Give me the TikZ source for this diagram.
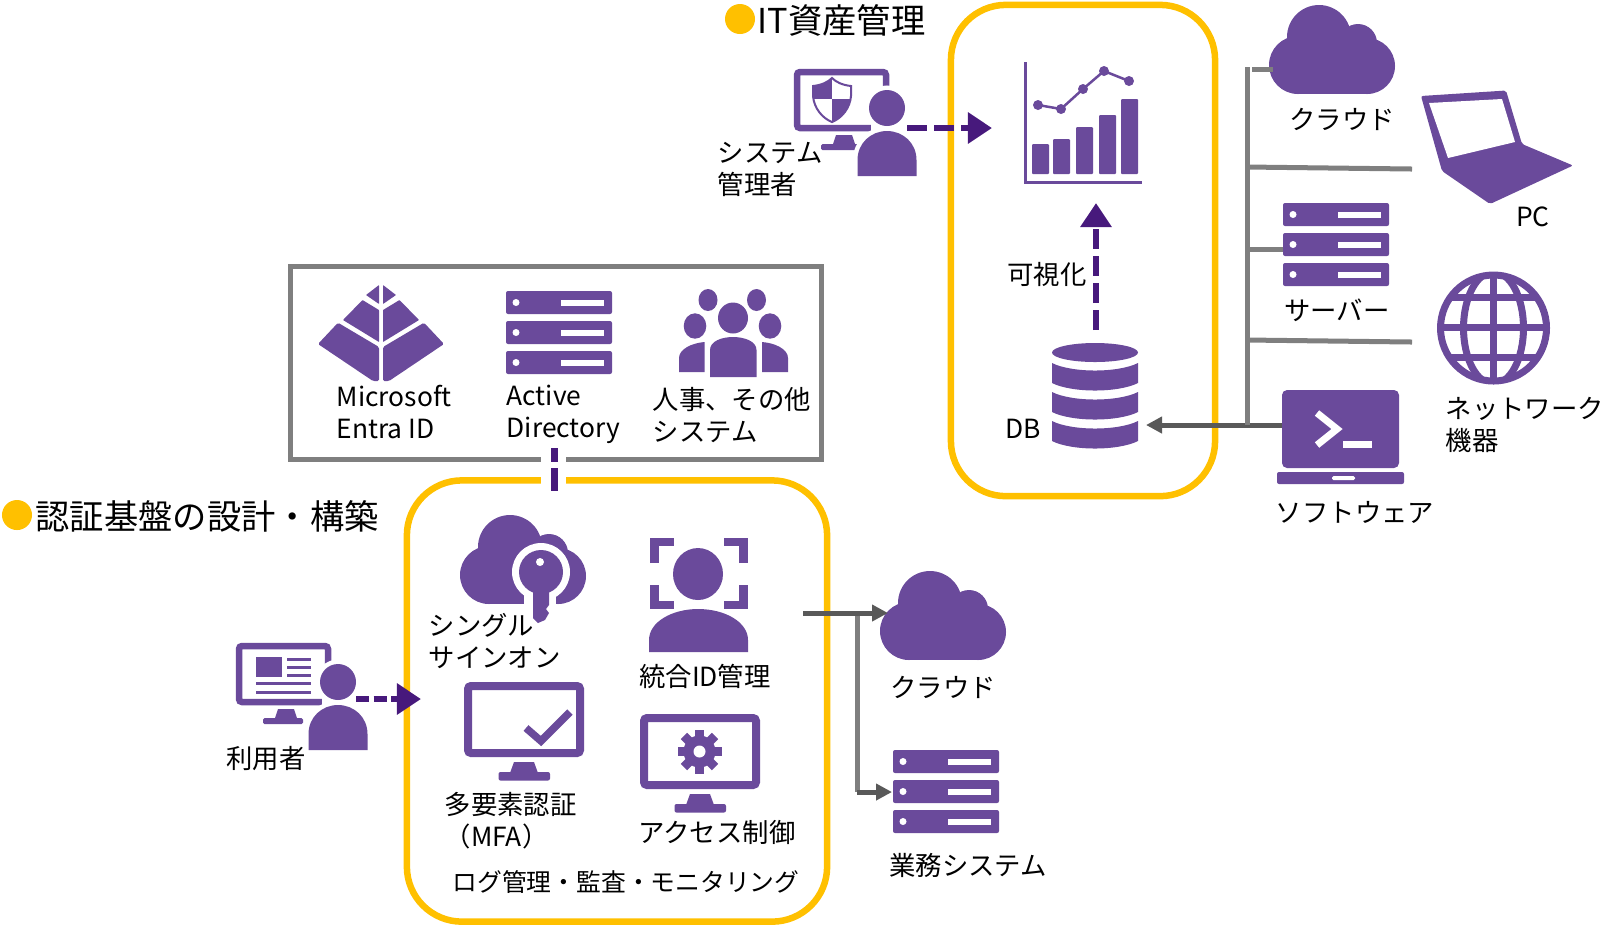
\documentclass[tikz,border=0pt]{standalone}
\usepackage{fontspec}
\setmainfont{Noto Sans CJK JP}
\usetikzlibrary{arrows.meta,calc,positioning}
\definecolor{iaPurple}{HTML}{6A4A9B}
\definecolor{iaDeep}{HTML}{47197C}
\definecolor{iaGold}{HTML}{FFC000}
\definecolor{iaGray}{HTML}{7F7F7F}
\definecolor{iaDark}{HTML}{595959}
\tikzset{
  ia frame/.style={draw=iaGold, line width=.65mm, rounded corners=.55cm, inner sep=0pt},
  ia plain frame/.style={draw=iaGray, line width=.5mm, inner sep=0pt},
  ia dot/.style={circle, fill=iaGold, inner sep=0pt, minimum size=.3cm},
  ia flow/.style={
    draw=iaDeep,
    line width=.65mm,
    dash pattern=on 2mm off .7mm,
    -{Triangle[length=2.4mm,width=3mm,sep=0pt]}
  },
  ia link/.style={draw=iaDeep, line width=.7mm, dash pattern=on 1.4mm off .6mm on 2.3mm off .6mm},
  ia feed/.style={
    draw=iaDark,
    line width=.5mm,
    -{Triangle[length=1.6mm,width=1.6mm,sep=0pt]}
  },
  ia bus/.style={draw=iaGray, line width=.5mm},
  ia label/.style={font=\fontsize{7.5}{9.1}\selectfont, text=black, inner sep=0pt, align=left},
  ia title/.style={font=\fontsize{9.75}{11}\selectfont, text=black, inner sep=0pt, anchor=west},
  ia cloud/.pic={
    \fill[iaPurple] (49,32) circle (32);
    \fill[iaPurple] (28,60) circle (29);
    \fill[iaPurple] (97,61) circle (28);
    \fill[iaPurple] (88,38) circle (19);
    \fill[iaPurple] (28,40) rectangle (97,89);
  },
  ia server/.pic={
    \foreach \y in {0,30,60} {
      \fill[iaPurple, rounded corners=.02cm] (0,\y) rectangle (106,\y+23);
      \fill[white] (10,\y+11.5) circle (3.5);
      \fill[white] (55,\y+8.5) rectangle (98,\y+14.5);
    }
  },
  ia desk/.pic={
    \draw[iaPurple, line width=.65mm, rounded corners=.03cm] (3,3) rectangle (92,59);
    \fill[iaPurple] (42,66) -- (58,66) -- (61,75) -- (39,75) -- cycle;
    \fill[iaPurple, rounded corners=.015cm] (27,75) rectangle (67,81);
  },
  ia person/.pic={
    \fill[white] (-16,14) rectangle (16,28);
    \fill[iaPurple, preaction={draw=white, line width=.9mm}] (0,0) circle (18);
    \fill[iaPurple, preaction={draw=white, line width=.9mm}] (-29.5,68) -- (-29.5,52)
      .. controls (-29.5,35) and (-16,23) .. (0,23)
      .. controls (16,23) and (29.5,35) .. (29.5,52) -- (29.5,68) -- cycle;
  },
  ia monitor/.pic={
    \draw[iaPurple, line width=.8mm, rounded corners=.03cm] (4,4) rectangle (116,71);
    \fill[iaPurple] (50,80) -- (70,80) -- (74,91) -- (46,91) -- cycle;
    \fill[iaPurple, rounded corners=.02cm] (34.5,90) rectangle (86,98.5);
  }
}

\begin{document}
\begin{tikzpicture}[x=.01cm,y=-.01cm]
  \useasboundingbox (0,0) rectangle (1600,929);

  % frames
  \node[ia frame, minimum width=2.64cm, minimum height=4.91cm] (itFrame) at (1083,250.5) {};
  \node[ia frame, minimum width=4.2cm, minimum height=4.41cm] (authFrame) at (617,701) {};
  \node[ia plain frame, minimum width=5.315cm, minimum height=1.92cm] (sourceFrame) at (556,363) {};
  \fill[white] (541,455) rectangle (566,486);

  % titles
  \node[ia dot] (itDot) at (740,19) {};
  \node[ia title] (itTitle) at (757,20) {IT資産管理};
  \node[ia dot] (authDot) at (17,515) {};
  \node[ia title] (authTitle) at (35,516) {認証基盤の設計・構築};

  % administrator
  \pic at (794,69) {ia desk};
  \path[fill=white, draw=iaPurple, line width=.2mm] (813,86) .. controls (822,85) and (828,82) .. (832,78)
    .. controls (836,82) and (842,85) .. (851,86) -- (851,96) .. controls (850,108) and (842,118) .. (832,122)
    .. controls (822,118) and (814,108) .. (813,96) -- cycle;
  \begin{scope}
    \clip (813,86) .. controls (822,85) and (828,82) .. (832,78)
      .. controls (836,82) and (842,85) .. (851,86) -- (851,96) .. controls (850,108) and (842,118) .. (832,122)
      .. controls (822,118) and (814,108) .. (813,96) -- cycle;
    \fill[iaPurple] (810,75) rectangle (832,99);
    \fill[iaPurple] (832,99) rectangle (855,125);
  \end{scope}
  \pic at (887,108) {ia person};
  \node[ia label, anchor=west] (adminLabel) at (717,169.5) {システム\\管理者};

  % chart
  \draw[iaPurple, line width=.3mm] (1025,62) -- (1025,182) -- (1142,182);
  \foreach \x/\top in {1032/144,1053/139,1076/127,1099/115,1121/99}
    \fill[iaPurple, rounded corners=.01cm] (\x,\top) rectangle (\x+17,174);
  \draw[iaPurple, line width=.25mm] (1038,105) -- (1061,109) -- (1083,89) -- (1104,71) -- (1129,81);
  \foreach \x/\y in {1038/105,1061/109,1083/89,1104/71,1129/81}
    \fill[iaPurple] (\x,\y) circle (5);
  \coordinate (chartBase) at (1096,203);
  \coordinate (adminEnd) at (907,128);
  \coordinate (chartSide) at (992,128);
  \draw[ia flow] (adminEnd) -- (chartSide);

  % database
  \fill[iaPurple] (1095,352.5) ellipse (43 and 9.5);
  \foreach \y in {363,392,421}
    \fill[iaPurple] (1052,\y) -- (1052,\y+20) .. controls (1072,\y+30) and (1118,\y+30) .. (1138,\y+20)
      -- (1138,\y) .. controls (1118,\y+10) and (1072,\y+10) .. (1052,\y) -- cycle;
  \coordinate (dbTop) at (1096,330);
  \coordinate (dbSide) at (1146,425);
  \draw[ia flow] (dbTop) -- (chartBase);
  \node[ia label] (dbLabel) at (1023,429) {DB};
  \node[ia label] (visualLabel) at (1047,274) {可視化};

  % managed assets
  \pic at (1270,5) {ia cloud};
  \node[ia label] (assetCloudLabel) at (1342,119) {クラウド};
  \fill[iaPurple, rounded corners=.02cm] (1421,96) -- (1506,90.5) -- (1522,144) -- (1573,165.5)
    -- (1490,204) -- (1442,171) -- cycle;
  \fill[white] (1429,103) -- (1502,99) -- (1515,142) -- (1448,158) -- cycle;
  \node[ia label] (pcLabel) at (1533,217) {PC};
  \pic at (1283,203) {ia server};
  \node[ia label] (assetServerLabel) at (1337,310) {サーバー};
  \begin{scope}
    \clip (1493.5,328) circle (56);
    \draw[iaPurple, line width=.7mm] (1493.5,271) -- (1493.5,385);
    \draw[iaPurple, line width=.7mm] (1493.5,328) ellipse (30 and 56);
    \foreach \y in {297,327,357}
      \draw[iaPurple, line width=.7mm] (1437,\y) -- (1550,\y);
  \end{scope}
  \draw[iaPurple, line width=.7mm] (1493.5,328) circle (53);
  \node[ia label, anchor=west] (networkLabel) at (1445,424.5) {ネットワーク\\機器};
  \fill[iaPurple, rounded corners=.05cm] (1282,468) -- (1282,390) -- (1399,390) -- (1399,468) -- cycle;
  \fill[iaPurple, rounded corners=.02cm] (1277,472) rectangle (1404,484);
  \fill[white, rounded corners=.015cm] (1332,476) rectangle (1355,480);
  \draw[white, line width=.7mm] (1317,413) -- (1337,429) -- (1317,445);
  \fill[white] (1343,441) rectangle (1372,448);
  \node[ia label] (softwareLabel) at (1355,512) {ソフトウェア};

  % bus
  \coordinate (busTop) at (1247,67);
  \coordinate (busFoot) at (1247,425);
  \coordinate (softwareSide) at (1282,425);
  \draw[ia feed] (softwareSide) -- (dbSide);
  \draw[ia bus] (busTop) -- (busFoot);
  \draw[ia bus] (1252,69) -- (1273,69);
  \draw[ia bus] (1247,167) -- (1412,169);
  \draw[ia bus] (1247,249) -- (1283,249);
  \draw[ia bus] (1247,340) -- (1412,342);

  % identity sources
  \foreach \s in {-1,1} {
    \begin{scope}[shift={(381,285)}, xscale=\s]
      \fill[iaPurple, rounded corners=.005cm] (-15,10) -- (-2,0) -- (-2,19) -- cycle;
      \fill[iaPurple, rounded corners=.005cm] (-38,35) -- (-18.5,15) -- (-2,25) -- (-2,57) -- cycle;
      \fill[iaPurple, rounded corners=.015cm] (-63,59) -- (-43,37.7) -- (-2,62) -- (-2,96) -- (-8,96) -- cycle;
    \end{scope}
  }
  \node[ia label, anchor=west] (entraLabel) at (336,412) {Microsoft\\Entra ID};
  \pic at (506,291) {ia server};
  \node[ia label, anchor=west] (directoryLabel) at (506,414.5) {Active\\Directory};
  \fill[iaPurple] (733,318) ellipse (15 and 15.5);
  \foreach \x in {708,756.5}
    \fill[iaPurple] (\x,300) ellipse (9.5 and 11);
  \foreach \x in {695,770}
    \fill[iaPurple] (\x,326) ellipse (11.3 and 12.7);
  \fill[iaPurple] (710,377) -- (710,350) .. controls (710,341) and (722,337) .. (733,337)
    .. controls (744,337) and (756.5,341) .. (756.5,350) -- (756.5,377) -- cycle;
  \fill[iaPurple] (704.5,372) -- (679,372) -- (679,358) .. controls (679,349) and (692,343) .. (704.5,342) -- cycle;
  \fill[iaPurple] (762,372) -- (788,372) -- (788,358) .. controls (788,349) and (775,343) .. (762,342) -- cycle;
  \node[ia label, anchor=west] (staffLabel) at (652,415) {人事、その他\\システム};
  \coordinate (sourceFoot) at (554,448);
  \coordinate (authHead) at (554,491);
  \draw[ia link] (sourceFoot) -- (authHead);

  % single sign-on
  \pic at (461,515) {ia cloud};
  \fill[white] (541,572) circle (29);
  \fill[white] (524,590) rectangle (556,606);
  \fill[iaPurple] (541,572) circle (22);
  \fill[iaPurple] (533,588) -- (533,618) -- (538,623) -- (545,620) -- (549,613) -- (546,609) -- (549,605) -- (549,588) -- cycle;
  \fill[white] (540,562) circle (4);
  \node[ia label, anchor=west] (ssoLabel) at (428,641) {シングル\\サインオン};

  % unified id
  \foreach \xa/\xb/\xc/\ya/\yb/\yc in {654.5/654.5/674/563/542/542,743.5/743.5/724/563/542/542,654.5/654.5/674/585/605/605,743.5/743.5/724/585/605/605}
    \draw[iaPurple, line width=.85mm] (\xa,\ya) -- (\xb,\yb) -- (\xc,\yc);
  \fill[iaPurple] (698,574) ellipse (25 and 26);
  \fill[iaPurple] (649,652) -- (649,640) .. controls (649,622) and (672,609) .. (698,609)
    .. controls (725,609) and (748,622) .. (748,640) -- (748,652) -- cycle;
  \node[ia label] (unifiedLabel) at (705,676.5) {統合ID管理};

  % mfa
  \pic at (464,682) {ia monitor};
  \draw[iaPurple, line width=.75mm] (526,728) -- (541,741) -- (570,712);
  \node[ia label, anchor=west] (mfaLabel) at (444,821) {多要素認証\\（MFA）};

  % access control
  \pic at (640,714) {ia monitor};
  \begin{scope}[shift={(699.5,751.5)}]
    \foreach \a in {0,45,...,315}
      \fill[iaPurple, rotate=\a] (-4.5,-22) rectangle (4.5,0);
    \fill[iaPurple] (0,0) circle (16);
    \fill[white] (0,0) circle (6);
  \end{scope}
  \node[ia label] (accessLabel) at (717,832) {アクセス制御};
  \node[ia label, font=\fontsize{7.05}{9}\selectfont] (logLabel) at (626,882) {ログ管理・監査・モニタリング};

  % user
  \pic at (236,643) {ia desk};
  \fill[iaPurple] (256,657) rectangle (282,677);
  \foreach \y in {659,667,675}
    \draw[iaPurple, line width=.3mm] (287,\y) -- (311,\y);
  \foreach \y in {683,692}
    \draw[iaPurple, line width=.3mm] (256,\y) -- (311,\y);
  \pic at (338,682) {ia person};
  \node[ia label] (userLabel) at (266,759) {利用者};
  \coordinate (userEnd) at (356,699);
  \coordinate (authSide) at (421,699);
  \draw[ia flow, dash pattern=on 1.3mm off .45mm] (userEnd) -- (authSide);

  % services
  \pic at (881,571) {ia cloud};
  \node[ia label] (serviceCloudLabel) at (943,687) {クラウド};
  \pic at (893,750) {ia server};
  \node[ia label] (businessLabel) at (968,865) {業務システム};
  \coordinate (authExit) at (803,613);
  \coordinate (cloudSide) at (888,613);
  \coordinate (busCorner) at (857,792);
  \coordinate (serverSide) at (892,792);
  \draw[ia bus] (authExit -| busCorner) -- (busCorner);
  \draw[ia feed] (authExit) -- (cloudSide);
  \draw[ia feed] (busCorner) -- (serverSide);
\end{tikzpicture}
\end{document}
